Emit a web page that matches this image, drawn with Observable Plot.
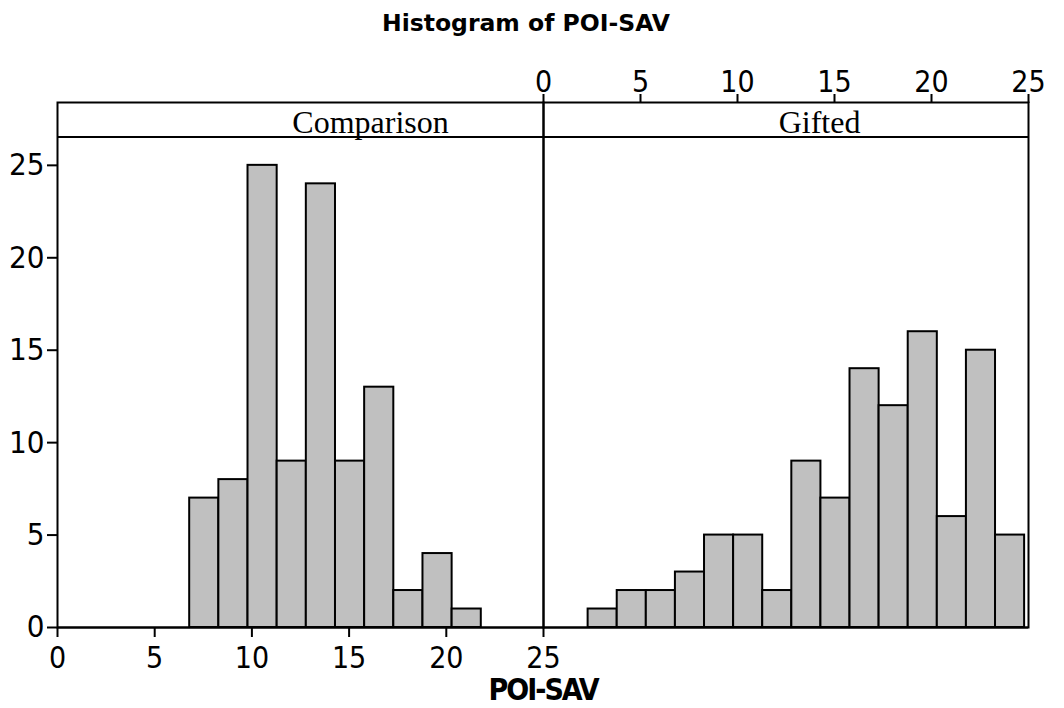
<!DOCTYPE html>
<html>
<head>
<meta charset="utf-8">
<script src="https://cdn.jsdelivr.net/npm/d3@7"></script>
<script src="https://cdn.jsdelivr.net/npm/@observablehq/plot@0.6"></script>
<style>
  body { margin: 0; background: white; }
  #wrap { position: relative; width: 1064px; height: 708px; overflow: hidden; background: white; }
  .layer { position: absolute; left: 0; top: 0; }
  .txt { position: absolute; white-space: nowrap; line-height: 1; color: black; transform: translateX(-50%); }
  #title { font-family: "DejaVu Sans", sans-serif; font-weight: bold; font-size: 23.5px; left: 526px; top: 12px; }
  #xlabel { font-family: "DejaVu Sans Condensed", "DejaVu Sans", sans-serif; font-stretch: condensed; font-weight: bold; font-size: 30px; letter-spacing: -2px; left: 543px; top: 675px; }
  .strip { font-family: "Liberation Serif", serif; font-size: 32px; top: 105.5px; }
  #stripline { position: absolute; left: 57px; top: 136px; width: 971px; height: 0; border-top: 2px solid black; }
</style>
</head>
<body>
<div id="wrap">
  <div id="left" class="layer"></div>
  <div id="right" class="layer"></div>
  <div id="stripline"></div>
  <div id="title" class="txt">Histogram of POI-SAV</div>
  <div id="s1" class="txt strip"></div>
  <div id="s2" class="txt strip"></div>
  <div id="xlabel" class="txt">POI-SAV</div>
</div>
<script>
// ---- data ----
const panels = ["Comparison", "Gifted"];
const binEdges = [2.3, 3.8, 5.3, 6.8, 8.3, 9.8, 11.3, 12.8, 14.3, 15.8, 17.3, 18.8, 20.3, 21.8, 23.3, 24.8];
const comparisonCounts = [0, 0, 0, 7, 8, 25, 9, 24, 9, 13, 2, 4, 1];
const giftedCounts = [1, 2, 2, 3, 5, 5, 2, 9, 7, 14, 12, 16, 6, 15, 5];
const xTicks = [0, 5, 10, 15, 20, 25];
const yTicks = [0, 5, 10, 15, 20, 25];
const title = "Histogram of POI-SAV";
const xLabel = "POI-SAV";

// ---- build bins ----
const toBins = counts => counts.map((c, i) => ({x1: binEdges[i], x2: binEdges[i + 1], count: c}));
const compBins = toBins(comparisonCounts);
const giftBins = toBins(giftedCounts);

document.getElementById("title").textContent = title;
document.getElementById("xlabel").textContent = xLabel;
document.getElementById("s1").textContent = panels[0];
document.getElementById("s2").textContent = panels[1];
document.getElementById("s1").style.left = "370.5px";
document.getElementById("s2").style.left = "819.5px";

const W = 1064, H = 708;
const narrow = "'Liberation Sans Narrow', 'DejaVu Sans Condensed', sans-serif";
const common = {
  width: W, height: H,
  marginTop: 102, marginBottom: 81,
  style: {background: "transparent", overflow: "visible", fontFamily: narrow, fontSize: "30px", color: "black"}
};

const leftPlot = Plot.plot({
  ...common,
  marginLeft: 57, marginRight: W - 543,
  x: {domain: [0, 25]},
  y: {domain: [0, 28.4]},
  marks: [
    Plot.rectY(compBins, {x1: "x1", x2: "x2", y: "count", fill: "#c0c0c0", stroke: "black", strokeWidth: 2}),
    Plot.ruleY([0], {stroke: "black", strokeWidth: 2}),
    Plot.frame({stroke: "black", strokeWidth: 2}),
    Plot.axisY(yTicks, {tickSize: 10, tickPadding: 3, fontSize: 31, fontFamily: narrow, strokeWidth: 2, label: null}),
    Plot.axisX(xTicks, {anchor: "bottom", tickSize: 10, tickPadding: 9, fontSize: 30, fontFamily: narrow, strokeWidth: 2, label: null})
  ]
});
document.getElementById("left").append(leftPlot);

const rightPlot = Plot.plot({
  ...common,
  marginLeft: 543, marginRight: W - 1028,
  x: {domain: [0, 25]},
  y: {domain: [0, 28.4], axis: null},
  marks: [
    Plot.rectY(giftBins, {x1: "x1", x2: "x2", y: "count", fill: "#c0c0c0", stroke: "black", strokeWidth: 2}),
    Plot.ruleY([0], {stroke: "black", strokeWidth: 2}),
    Plot.frame({stroke: "black", strokeWidth: 2}),
    Plot.axisX(xTicks, {anchor: "top", tickSize: 9, tickPadding: 2, fontSize: 30, fontFamily: narrow, strokeWidth: 2, label: null})
  ]
});
document.getElementById("right").append(rightPlot);
</script>
</body>
</html>
